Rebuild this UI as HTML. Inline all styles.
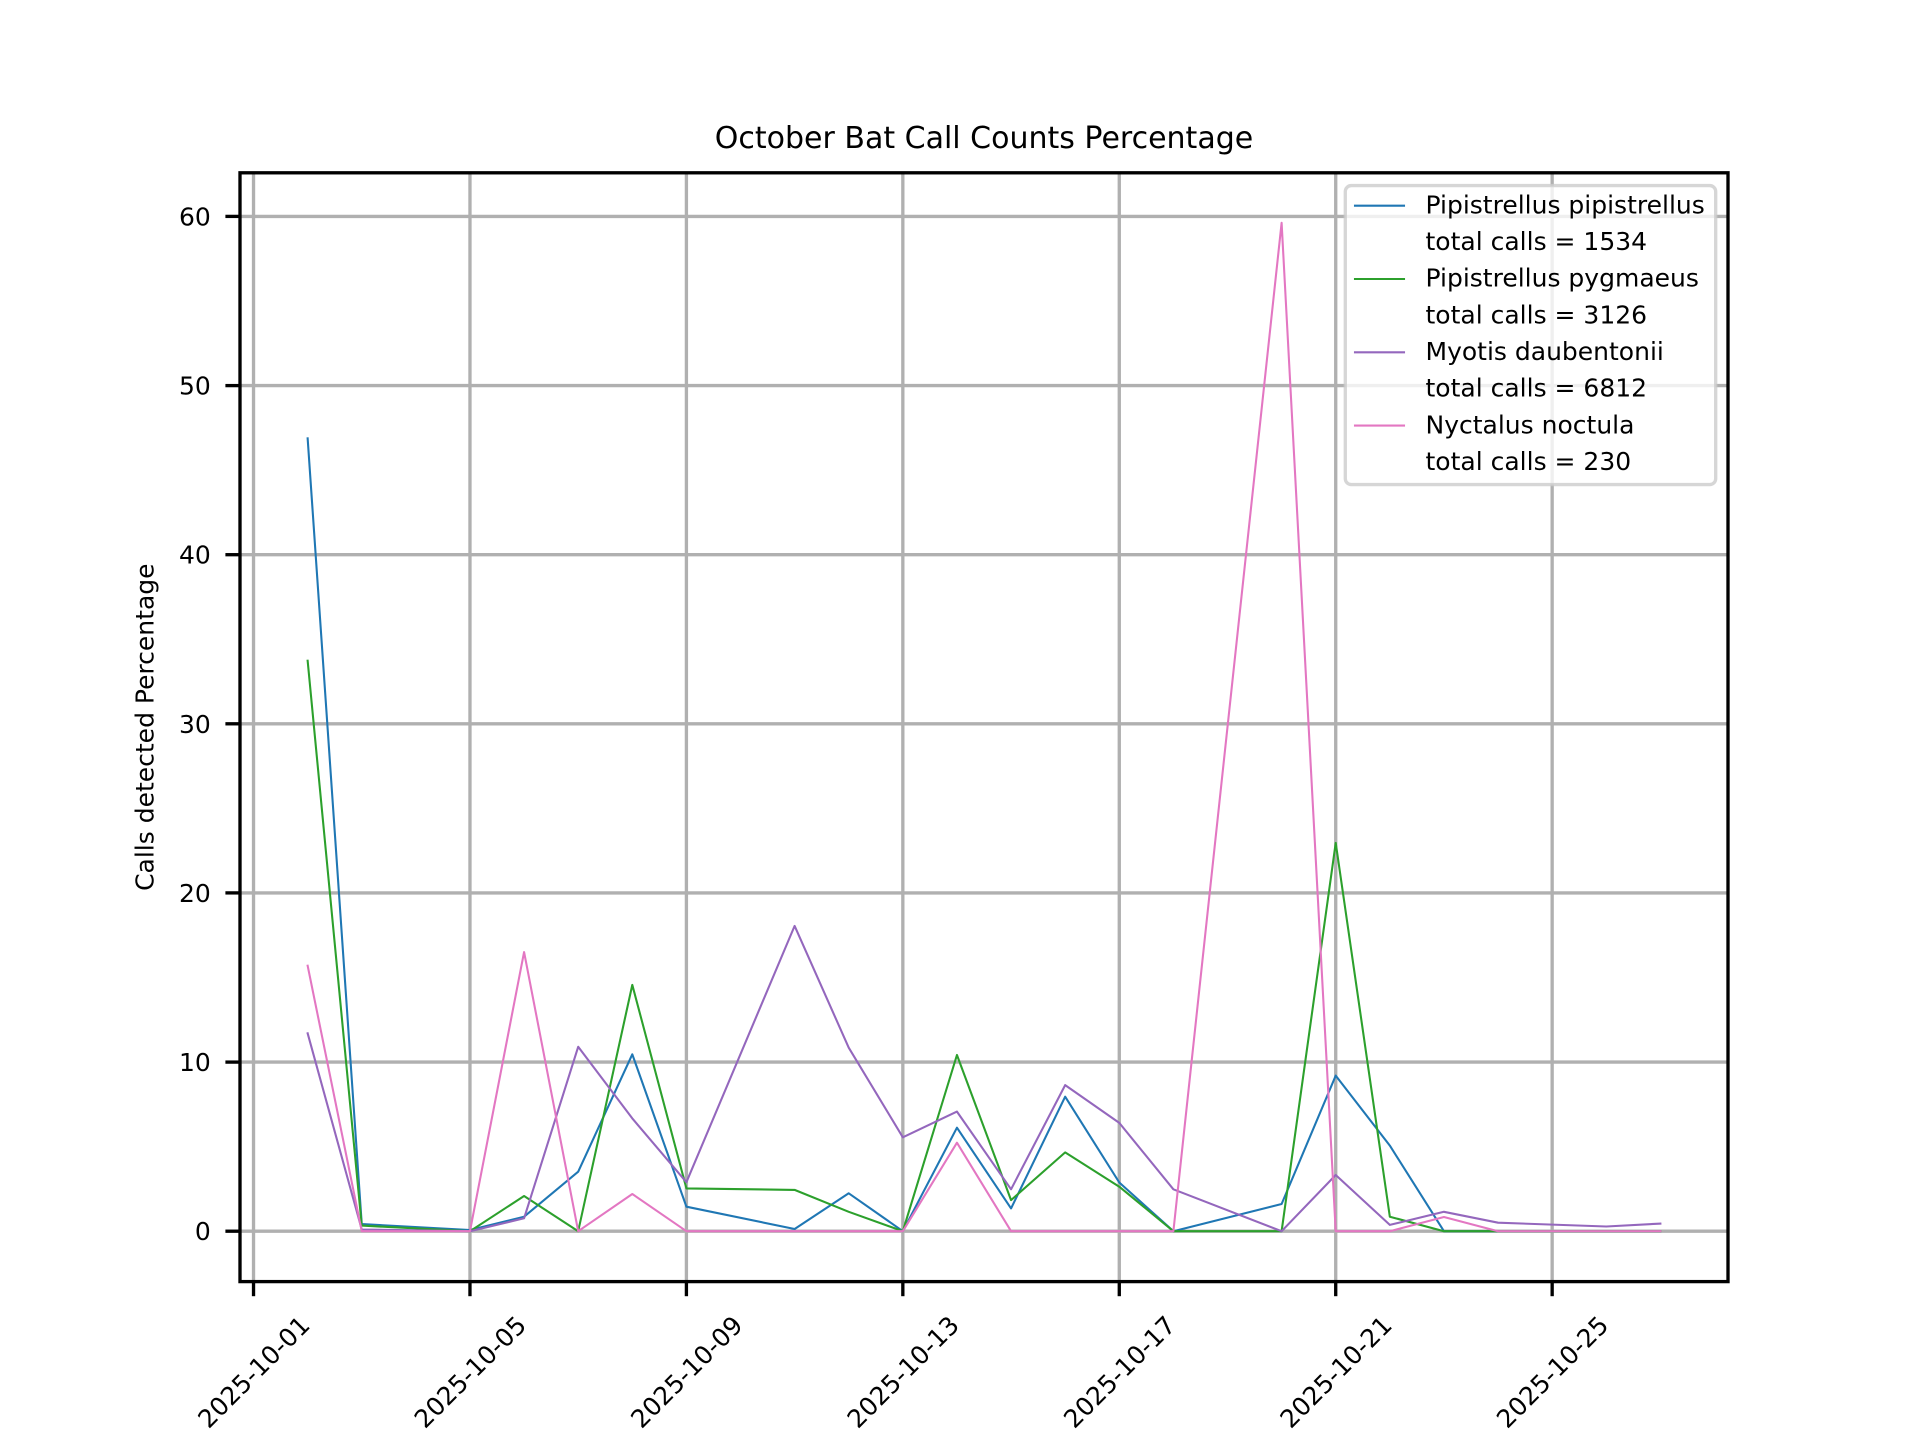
<!DOCTYPE html>
<html>
<head>
<meta charset="utf-8">
<style>
  html, body { margin: 0; padding: 0; background: #ffffff; }
  svg { display: block; }
  text { font-family: "DejaVu Sans", "Liberation Sans", sans-serif; fill: #000; }
</style>
</head>
<body>
<svg width="1920" height="1440" viewBox="0 0 1920 1440" xmlns="http://www.w3.org/2000/svg">
  <rect x="0" y="0" width="1920" height="1440" fill="#ffffff"/>

  <!-- Title -->
  <text x="984" y="147.8" font-size="30" text-anchor="middle">October Bat Call Counts Percentage</text>

  <!-- Grid -->
  <g stroke="#b0b0b0" stroke-width="3.33" fill="none">
    <line x1="240" y1="1231.2" x2="1728" y2="1231.2"/>
    <line x1="240" y1="1062.1" x2="1728" y2="1062.1"/>
    <line x1="240" y1="892.9" x2="1728" y2="892.9"/>
    <line x1="240" y1="723.8" x2="1728" y2="723.8"/>
    <line x1="240" y1="554.7" x2="1728" y2="554.7"/>
    <line x1="240" y1="385.6" x2="1728" y2="385.6"/>
    <line x1="240" y1="216.4" x2="1728" y2="216.4"/>
    <line x1="253.53" y1="172.8" x2="253.53" y2="1281.6"/>
    <line x1="469.97" y1="172.8" x2="469.97" y2="1281.6"/>
    <line x1="686.41" y1="172.8" x2="686.41" y2="1281.6"/>
    <line x1="902.84" y1="172.8" x2="902.84" y2="1281.6"/>
    <line x1="1119.28" y1="172.8" x2="1119.28" y2="1281.6"/>
    <line x1="1335.72" y1="172.8" x2="1335.72" y2="1281.6"/>
    <line x1="1552.16" y1="172.8" x2="1552.16" y2="1281.6"/>
  </g>

  <!-- Data lines -->
  <g fill="none" stroke-width="2.08" stroke-linejoin="round" stroke-linecap="square">
    <!-- Pipistrellus pipistrellus -->
    <polyline stroke="#1f77b4" points="307.64,438.3 361.75,1224.1 469.97,1230.0 524.08,1216.7 578.19,1171.7 632.30,1054.3 686.41,1206.7 794.63,1229.0 848.73,1193.3 902.84,1231.2 956.95,1127.7 1011.06,1208.4 1065.17,1096.7 1119.28,1182.5 1173.39,1231.2 1281.61,1204.0 1335.72,1075.6 1389.83,1145.6 1443.94,1231.2 1498.05,1231.2 1606.27,1231.2 1660.38,1231.2"/>
    <!-- Pipistrellus pygmaeus -->
    <polyline stroke="#2ca02c" points="307.64,660.7 361.75,1225.6 469.97,1231.2 524.08,1196.0 578.19,1231.2 632.30,984.9 686.41,1188.4 794.63,1189.9 848.73,1211.8 902.84,1231.2 956.95,1055.0 1011.06,1200.1 1065.17,1152.4 1119.28,1186.7 1173.39,1231.2 1281.61,1231.2 1335.72,842.9 1389.83,1216.7 1443.94,1231.2 1498.05,1231.2 1606.27,1231.2 1660.38,1231.2"/>
    <!-- Myotis daubentonii -->
    <polyline stroke="#9467bd" points="307.64,1033.3 361.75,1229.5 469.97,1231.2 524.08,1218.3 578.19,1046.8 632.30,1118.4 686.41,1182.2 794.63,925.9 848.73,1047.7 902.84,1137.3 956.95,1111.6 1011.06,1189.3 1065.17,1085.1 1119.28,1122.9 1173.39,1189.3 1281.61,1231.2 1335.72,1175.0 1389.83,1224.9 1443.94,1211.8 1498.05,1222.7 1606.27,1226.5 1660.38,1223.6"/>
    <!-- Nyctalus noctula -->
    <polyline stroke="#e377c2" points="307.64,965.7 361.75,1231.2 469.97,1231.2 524.08,952.1 578.19,1231.2 632.30,1194.0 686.41,1231.2 794.63,1231.2 848.73,1231.2 902.84,1231.2 956.95,1142.7 1011.06,1231.2 1065.17,1231.2 1119.28,1231.2 1173.39,1231.2 1281.61,222.8 1335.72,1231.2 1389.83,1231.2 1443.94,1217.0 1498.05,1231.2 1606.27,1231.2 1660.38,1231.2"/>
  </g>

  <!-- Spines -->
  <rect x="240" y="172.8" width="1488" height="1108.8" fill="none" stroke="#000" stroke-width="3.33"/>

  <!-- Ticks -->
  <g stroke="#000" stroke-width="3.33">
    <line x1="225.4" y1="1231.2" x2="240" y2="1231.2"/>
    <line x1="225.4" y1="1062.1" x2="240" y2="1062.1"/>
    <line x1="225.4" y1="892.9" x2="240" y2="892.9"/>
    <line x1="225.4" y1="723.8" x2="240" y2="723.8"/>
    <line x1="225.4" y1="554.7" x2="240" y2="554.7"/>
    <line x1="225.4" y1="385.6" x2="240" y2="385.6"/>
    <line x1="225.4" y1="216.4" x2="240" y2="216.4"/>
    <line x1="253.53" y1="1281.6" x2="253.53" y2="1296.2"/>
    <line x1="469.97" y1="1281.6" x2="469.97" y2="1296.2"/>
    <line x1="686.41" y1="1281.6" x2="686.41" y2="1296.2"/>
    <line x1="902.84" y1="1281.6" x2="902.84" y2="1296.2"/>
    <line x1="1119.28" y1="1281.6" x2="1119.28" y2="1296.2"/>
    <line x1="1335.72" y1="1281.6" x2="1335.72" y2="1296.2"/>
    <line x1="1552.16" y1="1281.6" x2="1552.16" y2="1296.2"/>
  </g>

  <!-- Y tick labels -->
  <g font-size="25" text-anchor="end">
    <text x="210.8" y="1240.2">0</text>
    <text x="210.8" y="1071.1">10</text>
    <text x="210.8" y="901.9">20</text>
    <text x="210.8" y="732.8">30</text>
    <text x="210.8" y="563.7">40</text>
    <text x="210.8" y="394.6">50</text>
    <text x="210.8" y="225.4">60</text>
  </g>

  <!-- X tick labels -->
  <g font-size="25" text-anchor="middle">
    <text transform="translate(253.53,1371.7) rotate(-45)" y="9.1">2025-10-01</text>
    <text transform="translate(469.97,1371.7) rotate(-45)" y="9.1">2025-10-05</text>
    <text transform="translate(686.41,1371.7) rotate(-45)" y="9.1">2025-10-09</text>
    <text transform="translate(902.84,1371.7) rotate(-45)" y="9.1">2025-10-13</text>
    <text transform="translate(1119.28,1371.7) rotate(-45)" y="9.1">2025-10-17</text>
    <text transform="translate(1335.72,1371.7) rotate(-45)" y="9.1">2025-10-21</text>
    <text transform="translate(1552.16,1371.7) rotate(-45)" y="9.1">2025-10-25</text>
  </g>

  <!-- Y axis label -->
  <text transform="translate(153.5,727.2) rotate(-90)" font-size="25" text-anchor="middle">Calls detected Percentage</text>

  <!-- Legend -->
  <rect x="1345.3" y="185.6" width="370.4" height="299" rx="6" ry="6" fill="#ffffff" fill-opacity="0.8" stroke="#cccccc" stroke-opacity="0.8" stroke-width="3.33"/>
  <g stroke-width="2.08" stroke-linecap="square">
    <line x1="1355" y1="205.7" x2="1404" y2="205.7" stroke="#1f77b4"/>
    <line x1="1355" y1="279.0" x2="1404" y2="279.0" stroke="#2ca02c"/>
    <line x1="1355" y1="352.3" x2="1404" y2="352.3" stroke="#9467bd"/>
    <line x1="1355" y1="425.6" x2="1404" y2="425.6" stroke="#e377c2"/>
  </g>
  <g font-size="25">
    <text x="1425.5" y="213.4">Pipistrellus pipistrellus</text>
    <text x="1425.5" y="250.0">total calls = 1534</text>
    <text x="1425.5" y="286.7">Pipistrellus pygmaeus</text>
    <text x="1425.5" y="323.3">total calls = 3126</text>
    <text x="1425.5" y="360.0">Myotis daubentonii</text>
    <text x="1425.5" y="396.6">total calls = 6812</text>
    <text x="1425.5" y="433.3">Nyctalus noctula</text>
    <text x="1425.5" y="469.9">total calls = 230</text>
  </g>
</svg>
</body>
</html>
